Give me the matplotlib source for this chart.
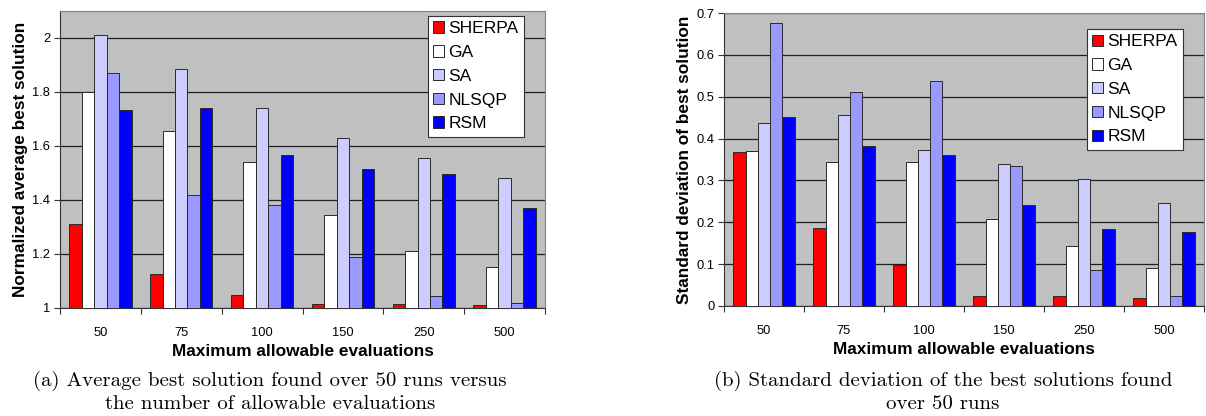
import matplotlib
matplotlib.use("Agg")
import matplotlib.pyplot as plt
import numpy as np

categories = ["50", "75", "100", "150", "250", "500"]
series = ["SHERPA", "GA", "SA", "NLSQP", "RSM"]
colors = ["#FF0000", "#FFFFFF", "#CCCCFF", "#9999FF", "#0000FF"]

avg_sherpa = [1.31, 1.125, 1.05, 1.015, 1.015, 1.012]
avg_ga = [1.80, 1.655, 1.54, 1.345, 1.21, 1.152]
avg_sa = [2.01, 1.885, 1.74, 1.63, 1.555, 1.48]
avg_nlsqp = [1.87, 1.42, 1.38, 1.19, 1.045, 1.017]
avg_rsm = [1.735, 1.74, 1.565, 1.515, 1.495, 1.37]

std_sherpa = [0.368, 0.187, 0.097, 0.023, 0.025, 0.018]
std_ga = [0.370, 0.345, 0.345, 0.208, 0.143, 0.090]
std_sa = [0.438, 0.457, 0.373, 0.340, 0.304, 0.245]
std_nlsqp = [0.677, 0.512, 0.537, 0.335, 0.085, 0.025]
std_rsm = [0.452, 0.383, 0.360, 0.242, 0.185, 0.176]

left_yticks = [1, 1.2, 1.4, 1.6, 1.8, 2]
left_yticklabels = ["1", "1.2", "1.4", "1.6", "1.8", "2"]
right_yticks = [0, 0.1, 0.2, 0.3, 0.4, 0.5, 0.6, 0.7]
right_yticklabels = ["0", "0.1", "0.2", "0.3", "0.4", "0.5", "0.6", "0.7"]

plt.rcParams['font.family'] = ['Liberation Sans', 'DejaVu Sans']

fig = plt.figure(figsize=(12.06, 4.16), dpi=100)
axL = fig.add_axes([60/1206, 1-308/416, 485/1206, 297/416])
axR = fig.add_axes([724/1206, 1-306/416, 480/1206, 293/416])


def draw(ax, data, base, ylim, yticks, yticklabels, ylabel, legend_anchor):
    n = len(categories)
    x = np.arange(n)
    w = 1.0 / (len(series) + 1.5)
    for i, (name, vals, c) in enumerate(zip(series, data, colors)):
        off = (i - (len(series) - 1) / 2) * w
        v = np.array(vals)
        ax.bar(x + off, v - base, bottom=base, width=w, color=c,
               edgecolor="#2a2a2a", linewidth=0.7, label=name, zorder=3)
    ax.set_facecolor("#C0C0C0")
    ax.set_xlim(-0.5, n - 0.5)
    ax.set_ylim(*ylim)
    ax.set_yticks(yticks)
    ax.set_yticklabels(yticklabels, fontsize=9.3)
    ax.yaxis.grid(True, color="#202020", linewidth=0.9, zorder=1)
    ax.set_axisbelow(True)
    ax.set_xticks(np.arange(n + 1) - 0.5)
    ax.set_xticklabels([""] * (n + 1))
    ax.set_xticks(x, minor=True)
    ax.set_xticklabels(categories, minor=True, fontsize=9.3)
    ax.tick_params(axis='x', which='minor', length=0, pad=14)
    ax.tick_params(axis='x', which='major', length=4, width=0.8, color="#333333", direction='out')
    ax.tick_params(axis='y', length=4, width=0.8, color="#333333", pad=3)
    for s in ["top", "right"]:
        ax.spines[s].set_color("#808080")
        ax.spines[s].set_linewidth(0.8)
    for s in ["left", "bottom"]:
        ax.spines[s].set_color("#333333")
        ax.spines[s].set_linewidth(0.8)
    ax.set_xlabel("Maximum allowable evaluations", fontsize=12.4, fontweight='bold', labelpad=3)
    ax.set_ylabel(ylabel, fontsize=12.4, fontweight='bold', labelpad=3)
    leg = ax.legend(loc='upper left', bbox_to_anchor=legend_anchor, fontsize=12.6,
                    frameon=True, fancybox=False, framealpha=1, edgecolor="#333333",
                    handlelength=0.62, handleheight=0.62, handletextpad=0.25,
                    labelspacing=0.5, borderpad=0.3, borderaxespad=0)
    leg.get_frame().set_linewidth(0.8)


draw(axL, [avg_sherpa, avg_ga, avg_sa, avg_nlsqp, avg_rsm], 1.0, (1.0, 2.1),
     left_yticks, left_yticklabels, "Normalized average best solution", (0.759, 0.983))
draw(axR, [std_sherpa, std_ga, std_sa, std_nlsqp, std_rsm], 0.0, (0.0, 0.7),
     right_yticks, right_yticklabels, "Standard deviation of best solution", (0.756, 0.945))

fig.text(270/1206, 1-381/416, "(a) Average best solution found over 50 runs versus",
         ha='center', va='center', fontsize=15, family='cmr10')
fig.text(270/1206, 1-404/416, "the number of allowable evaluations",
         ha='center', va='center', fontsize=15, family='cmr10')
fig.text(943/1206, 1-381/416, "(b) Standard deviation of the best solutions found",
         ha='center', va='center', fontsize=15, family='cmr10')
fig.text(943/1206, 1-404/416, "over 50 runs",
         ha='center', va='center', fontsize=15, family='cmr10')

fig.savefig("out.png", dpi=100)
